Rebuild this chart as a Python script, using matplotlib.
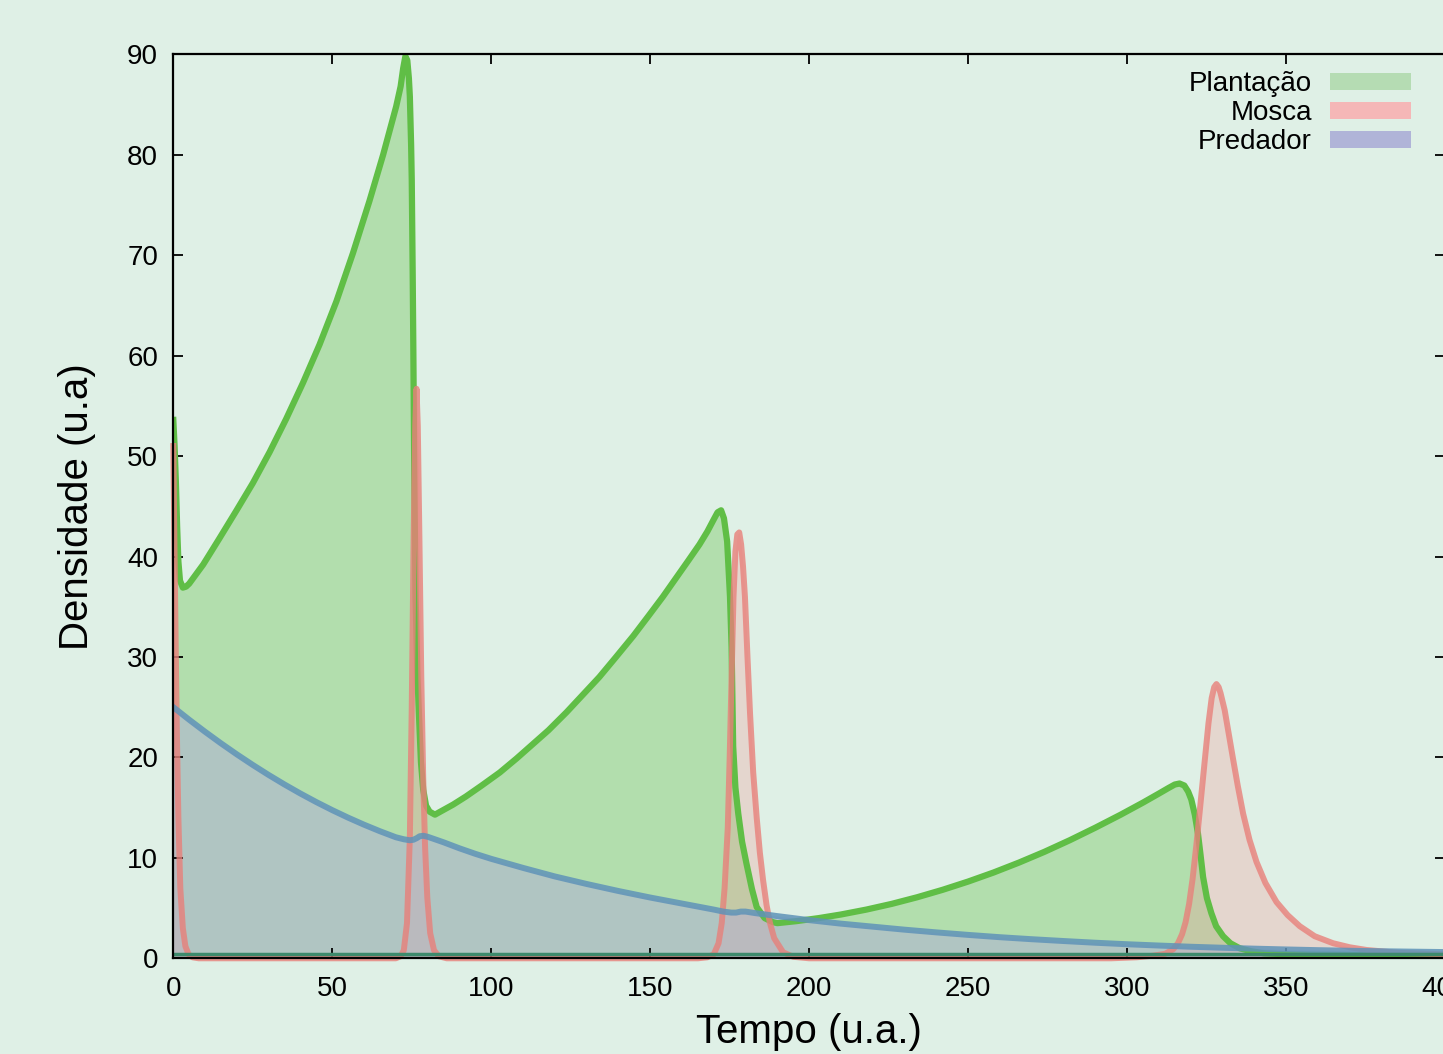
import numpy as np
import matplotlib.pyplot as plt
from matplotlib.patches import Patch

plt.rcParams['font.family'] = ['Liberation Sans', 'DejaVu Sans']

# tempo / densidade
plantacao_t = [0, 0.4, 0.8, 1.2, 1.6, 2.1, 3.0, 4.0, 5.0, 9.4, 14.5, 19.9, 25, 30.3, 35.5, 40.8,
               46, 51.3, 56.5, 61.7, 66, 70.1, 71.5, 72.3, 73.0, 73.6, 74.1, 74.4, 74.8, 75.0,
               75.3, 75.5, 75.8, 76.2, 76.8, 77.3, 77.9, 78.6, 79.5, 80.6, 82.3, 84, 88, 92,
               97, 102.7, 108, 113, 118, 123.7, 129, 134, 139, 144.7, 149.5, 154, 158, 162,
               165.5, 168, 170, 171.2, 172.3, 173.2, 174.2, 175.1, 175.6, 176.1, 176.8, 177.7,
               178.9, 180.3, 182, 183.5, 186, 188.6, 190, 193, 196, 203, 210, 218, 226, 234,
               242, 250, 258, 266, 274, 282, 290, 298, 305, 310, 313, 315, 316.5, 318, 319.2,
               320.2, 321.3, 322.3, 323.1, 323.9, 325.1, 326.5, 328, 330.2, 332.5, 335.4,
               339, 343, 350, 360, 380, 400]
plantacao = [53.6, 51.0, 47.5, 43.0, 39.5, 37.6, 36.9, 37.0, 37.3, 39.2, 41.8, 44.6, 47.3, 50.4,
             53.7, 57.3, 61.1, 65.4, 70.2, 75.4, 80.0, 84.8, 86.8, 88.6, 89.8, 89.4, 87.6, 85.8,
             81.0, 77.5, 68.0, 60.6, 48.0, 36.0, 28.0, 24.0, 19.5, 16.8, 15.2, 14.6, 14.3, 14.6,
             15.3, 16.1, 17.2, 18.5, 19.9, 21.3, 22.7, 24.5, 26.3, 28.0, 29.9, 32.1, 34.1, 36.0,
             37.8, 39.6, 41.2, 42.5, 43.7, 44.4, 44.6, 43.8, 41.5, 36.0, 31.0, 21.1, 17.0, 14.4,
             11.6, 9.4, 6.9, 5.1, 4.0, 3.6, 3.5, 3.6, 3.7, 4.0, 4.36, 4.85, 5.42, 6.08, 6.82,
             7.64, 8.54, 9.53, 10.6, 11.76, 13.0, 14.3, 15.5, 16.4, 16.95, 17.3, 17.4, 17.2,
             16.6, 15.8, 14.3, 12.4, 10.3, 8.1, 6.0, 4.5, 3.2, 2.2, 1.5, 1.0, 0.7, 0.5, 0.4,
             0.35, 0.3, 0.3]

mosca_t = [0, 0.4, 0.8, 1.2, 1.6, 2.2, 3.0, 3.8, 4.8, 6, 8, 70, 71.5, 72.5, 73.5, 74.4, 75.0,
           75.6, 76.1, 76.5, 76.9, 77.4, 78.0, 78.6, 79.2, 79.9, 80.8, 82, 83.5, 86, 165, 168,
           170, 171.5, 172.5, 173.4, 174.4, 175.0, 175.6, 176.2, 176.8, 177.4, 178.0, 178.6,
           179.2, 179.8, 180.6, 181.4, 182.4, 183.5, 184.5, 185.5, 186.6, 187.6, 189, 191.8,
           195, 200, 295, 303, 308, 312, 314.5, 316, 317.3, 318.4, 319.5, 320.6, 321.8, 322.9,
           324.4, 325.6, 326.6, 327.4, 328.1, 328.8, 329.4, 330.7, 332, 333.3, 334.8, 336.5,
           338.5, 340.7, 343.5, 347, 350.5, 354.3, 359, 364.8, 370, 375.3, 385, 400]
mosca = [51.0, 40, 30, 21, 14, 7, 3.0, 1.2, 0.4, 0.1, 0, 0, 0.2, 0.8, 3.5, 12, 25, 42, 53, 56.7,
         53, 42, 28, 18, 11, 6, 2.5, 0.8, 0.2, 0, 0, 0.1, 0.4, 1.5, 3.5, 7, 13, 20, 28, 36, 40.5,
         42.2, 42.4, 41.2, 39, 36, 30, 24.4, 18.5, 14, 10.5, 7.8, 5.3, 3.6, 2.0, 0.6, 0.15, 0, 0,
         0.1, 0.25, 0.45, 0.9, 1.5, 2.4, 3.6, 5.4, 7.9, 11.3, 14.8, 19.6, 23.4, 25.9, 27.0, 27.3,
         27.0, 26.4, 24.7, 22.3, 19.9, 17.2, 14.4, 11.8, 9.6, 7.5, 5.6, 4.3, 3.2, 2.2, 1.5, 1.1,
         0.83, 0.55, 0.4]

predador_t = [0, 5, 10, 15, 20, 25, 30, 35, 40, 45, 50, 55, 60, 65, 70, 72.5, 74.4, 75.5, 76.5,
              77.5, 78.6, 80, 85, 90, 95, 100, 110, 120, 130, 140, 150, 160, 165, 170, 173,
              175.5, 177, 178.5, 180, 183, 190, 200, 210, 220, 230, 240, 250, 260, 270, 280,
              290, 300, 310, 320, 330, 340, 350, 360, 370, 380, 390, 400]
predador = [25.0, 23.75, 22.55, 21.4, 20.3, 19.25, 18.25, 17.3, 16.4, 15.55, 14.75, 14.0, 13.3,
            12.65, 12.05, 11.85, 11.75, 11.8, 11.95, 12.15, 12.2, 12.1, 11.55, 10.95, 10.4, 9.9,
            9.0, 8.15, 7.4, 6.7, 6.05, 5.45, 5.15, 4.85, 4.65, 4.55, 4.55, 4.65, 4.65, 4.5, 4.2,
            3.8, 3.45, 3.15, 2.85, 2.58, 2.33, 2.1, 1.9, 1.72, 1.55, 1.4, 1.27, 1.15, 1.05, 0.96,
            0.88, 0.81, 0.75, 0.7, 0.66, 0.62]

base_level = 0.4
labels = ['Plantação', 'Mosca', 'Predador']

bg = '#dff0e6'
fig = plt.figure(figsize=(14.43, 10.54), dpi=100, facecolor=bg)
ax = fig.add_axes([0.1201, 0.0908, 0.8813, 0.8577])
ax.set_facecolor(bg)

# plantacao
ax.fill_between(plantacao_t, 0, plantacao, color='#5fbd45', alpha=0.35, lw=0)
ax.plot(plantacao_t, plantacao, color='#60be46', lw=4.5, solid_joinstyle='round')
# mosca
ax.fill_between(mosca_t, 0, mosca, color='#f09a98', alpha=0.3, lw=0)
ax.plot(mosca_t, mosca, color='#e8807a', lw=4.3, alpha=0.8, clip_on=False,
        solid_joinstyle='round')
# predador
ax.fill_between(predador_t, 0, predador, color='#aea8dc', alpha=0.45, lw=0)
ax.plot(predador_t, predador, color='#5f93b8', lw=4.3, alpha=0.85, solid_joinstyle='round')
ax.axhline(base_level, color='#3d8a6c', lw=2.5)

ax.set_xlim(0, 400)
ax.set_ylim(0, 90)
ax.set_xticks(np.arange(0, 401, 50))
ax.set_yticks(np.arange(0, 91, 10))
ax.tick_params(direction='in', length=7, width=1.3, labelsize=20, top=True, right=True,
               color='black')
ax.tick_params(axis='x', pad=13)
ax.tick_params(axis='y', pad=11)
for s in ax.spines.values():
    s.set_linewidth(1.6)
    s.set_zorder(5)

ax.set_xlabel('Tempo (u.a.)', fontsize=29, labelpad=8)
ax.set_ylabel('Densidade (u.a)', fontsize=29, labelpad=22)

handles = [Patch(fc='#b5dcb3', ec='none'), Patch(fc='#f5b7b7', ec='none'),
           Patch(fc='#b0b4d8', ec='none')]
leg = ax.legend(handles, labels, loc='upper right', bbox_to_anchor=(0.973, 0.981),
                frameon=False, markerfirst=False, fontsize=20, handlelength=2.9,
                handleheight=0.55, handletextpad=0.65, labelspacing=0.1,
                borderpad=0, borderaxespad=0)
for col in leg._legend_handle_box.get_children():
    col.align = 'right'

fig.savefig('out.png', dpi=100, facecolor=bg)
